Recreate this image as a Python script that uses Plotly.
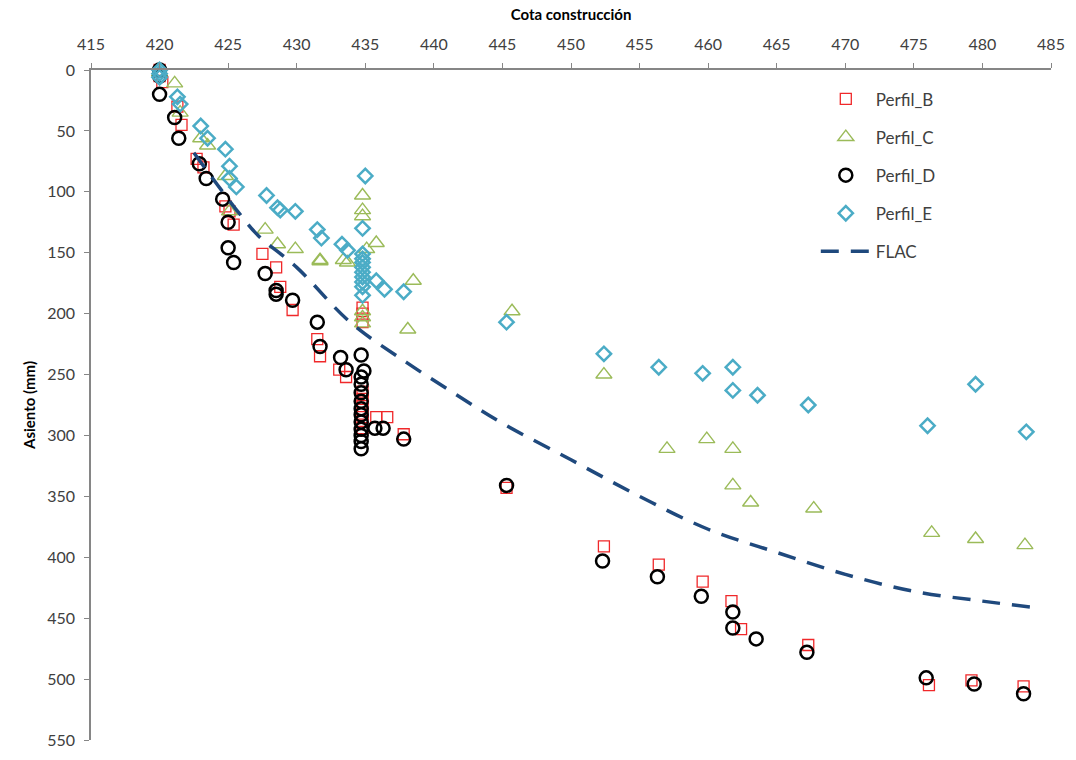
import plotly.graph_objects as go

# ---------------- data ----------------
b_x = [420.0, 420.0, 420.2, 421.3, 421.6, 422.7, 423.2, 424.8, 425.1, 425.4, 427.5, 428.5, 428.8,
       429.7, 431.5, 431.7, 433.1, 433.6, 434.8, 434.8, 434.8, 434.8, 434.8, 434.8, 434.8, 434.8,
       434.8, 435.8, 436.6, 437.8, 445.3, 452.4, 456.4, 459.6, 461.7, 462.4, 467.3, 476.1, 479.2, 483.0]
b_y = [0, 5, 10, 30, 45, 73, 80, 112, 116, 127, 151, 162, 178,
       197, 221, 235, 246, 252, 195, 200, 207, 264, 270, 276, 282, 288,
       294, 285, 285, 299, 343, 391, 406, 420, 436, 459, 472, 505, 501, 506]

c_x = [420.0, 421.1, 421.5, 423.0, 423.5, 424.8, 425.1, 427.7, 428.6, 429.9, 431.7, 431.7, 433.4,
       433.7, 434.8, 434.8, 434.8, 434.8, 434.8, 434.8, 435.1, 435.8, 438.1, 438.5, 445.7, 452.4,
       457.0, 459.9, 461.8, 461.8, 463.1, 467.7, 476.3, 479.5, 483.1]
c_y = [2, 11, 35, 56, 62, 87, 116, 131, 143, 147, 156, 157, 156,
       158, 103, 115, 120, 198, 203, 208, 147, 142, 213, 173, 198, 250,
       311, 303, 311, 341, 355, 360, 380, 385, 390]

d_x = [420.0, 420.0, 420.0, 421.1, 421.4, 422.9, 423.4, 424.6, 425.0, 425.0, 425.4, 427.7, 428.5,
       428.5, 429.7, 431.5, 431.7, 433.2, 433.6, 434.7, 434.9, 434.7, 434.7, 434.7, 434.7, 434.7,
       434.7, 434.7, 434.7, 434.7, 434.7, 434.7, 435.7, 436.3, 437.8, 445.3, 452.3, 456.3, 459.5,
       461.8, 461.8, 463.5, 467.2, 475.9, 479.4, 483.0]
d_y = [0, 5, 20, 39, 56, 77, 89, 106, 125, 146, 158, 167, 181,
       184, 189, 207, 227, 236, 246, 234, 247, 252, 258, 265, 272, 278,
       283, 289, 295, 300, 305, 311, 294, 294, 303, 341, 403, 416, 432,
       445, 458, 467, 478, 499, 504, 512]

e_x = [420.0, 420.0, 420.0, 421.3, 421.5, 423.0, 423.5, 424.8, 425.1, 425.1, 425.6, 427.8, 428.6,
       428.8, 429.9, 431.5, 431.8, 433.3, 433.7, 435.0, 434.8, 434.8, 434.8, 434.8, 434.8, 434.8,
       434.8, 434.8, 434.8, 434.8, 435.8, 436.4, 437.8, 445.3, 452.4, 456.4, 459.6, 461.8, 461.8,
       463.6, 467.3, 476.0, 479.5, 483.2]
e_y = [0, 3, 6, 22, 28, 46, 56, 65, 79, 89, 96, 103, 113,
       115, 116, 131, 138, 143, 148, 87, 130, 151, 155, 158, 162, 166,
       170, 174, 178, 185, 173, 180, 182, 207, 233, 244, 249, 244, 263,
       267, 275, 292, 258, 297]

flac_x = [422.5, 424.2, 425.9, 427.2, 430.0, 433.9, 438.0, 441.7, 445.0, 450.0, 455.0, 460.0,
          465.0, 470.0, 475.0, 480.0, 483.6]
flac_y = [68, 94, 119, 136, 162, 207, 240, 267, 290, 320, 350, 377,
          396, 414, 428, 436, 441]

x_ticks = [415, 420, 425, 430, 435, 440, 445, 450, 455, 460, 465, 470, 475, 480, 485]
y_ticks = [0, 50, 100, 150, 200, 250, 300, 350, 400, 450, 500, 550]

FONT = "Lato, 'Open Sans', sans-serif"
TXT = "#404040"
AX = "#868686"

fig = go.Figure()

fig.add_trace(go.Scatter(
    x=b_x, y=b_y, mode="markers", name="Perfil_B", legendgroup="b",
    marker=dict(symbol="square-open", size=11, color="#F0282A", line=dict(width=1.3, color="#F0282A")),
    cliponaxis=False))
fig.add_trace(go.Scatter(
    x=c_x, y=c_y, mode="markers", name="Perfil_C", legendgroup="c",
    marker=dict(symbol="triangle-up-open", size=14, color="#9BBB59", line=dict(width=1.4, color="#9BBB59")),
    cliponaxis=False))
fig.add_trace(go.Scatter(
    x=d_x, y=d_y, mode="markers", name="Perfil_D", legendgroup="d",
    marker=dict(symbol="circle-open", size=13, color="#000000", line=dict(width=2.5, color="#000000")),
    cliponaxis=False))
fig.add_trace(go.Scatter(
    x=e_x, y=e_y, mode="markers", name="Perfil_E", legendgroup="e",
    marker=dict(symbol="diamond-open", size=11, color="#4BACC6", line=dict(width=2.5, color="#4BACC6")),
    cliponaxis=False))
fig.add_trace(go.Scatter(
    x=flac_x, y=flac_y, mode="lines", name="FLAC", legendgroup="f",
    line=dict(color="#1F497D", width=3.5, dash="18px,12px", shape="spline"),
    cliponaxis=False))

fig.update_layout(
    width=1076, height=760,
    margin=dict(l=91, r=24, t=70, b=11),
    paper_bgcolor="white", plot_bgcolor="white",
    font=dict(family=FONT, size=16, color=TXT),
    showlegend=True,
    legend=dict(x=0.755, y=0.983, xanchor="left", yanchor="top",
                font=dict(family=FONT, size=17, color=TXT),
                traceorder="grouped", tracegroupgap=13,
                bgcolor="rgba(0,0,0,0)", itemwidth=50),
    xaxis=dict(
        side="top", range=[415, 485], tickvals=x_ticks, ticktext=[str(v) for v in x_ticks],
        showgrid=False, zeroline=False, showline=True, linecolor=AX, linewidth=1.5,
        ticks="outside", ticklen=5, tickcolor=AX, tickfont=dict(size=16, color=TXT),
        ticklabelstandoff=7,
        title=dict(text="<b>Cota construcción</b>", font=dict(size=15, color="#000000"), standoff=10)),
    yaxis=dict(
        range=[550, 0], tickvals=y_ticks, ticktext=[str(v) for v in y_ticks],
        showgrid=False, zeroline=False, showline=True, linecolor=AX, linewidth=1.5,
        ticks="outside", ticklen=5, tickcolor=AX, tickfont=dict(size=16, color=TXT),
        ticklabelstandoff=6,
        title=dict(text="<b>Asiento (mm)</b>", font=dict(size=15, color="#000000"), standoff=8)),
)

fig.write_html("out.html")
